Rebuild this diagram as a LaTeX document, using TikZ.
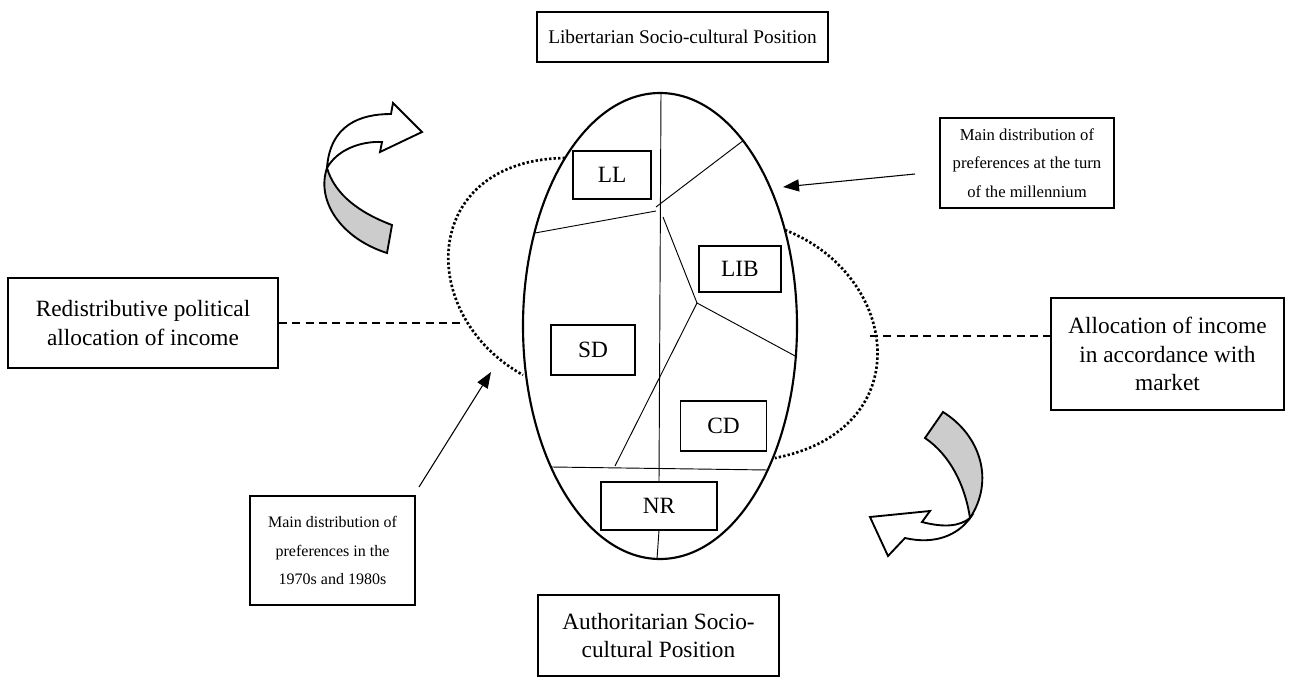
\documentclass[tikz,border=0pt]{standalone}
\usepackage{fontspec}
\setmainfont{Liberation Serif}
\usetikzlibrary{arrows.meta, positioning}

\begin{document}
\begin{tikzpicture}[
  x=0.75pt, y=-0.75pt,
  font=\fontsize{17.5}{21.5}\selectfont,
  box/.style={draw, line width=1.3pt, align=center, inner sep=0pt},
  small/.style={font=\fontsize{12.5}{21.5}\selectfont},
  party/.style={draw, line width=0.8pt, inner sep=0pt},
  border/.style={line width=0.7pt},
  orbit/.style={line width=2pt, dash pattern=on 1.8pt off 1.6pt},
  axis/.style={line width=1pt, dash pattern=on 6pt off 4pt},
  twist/.style={draw, line width=1.4pt, line join=miter},
  >={Triangle[length=12pt, width=9pt]}
]
\useasboundingbox (0,0) rectangle (1297,678);

% outer boxes
\node[box, font=\fontsize{14.5}{18}\selectfont, minimum width=218pt, minimum height=37.5pt] (libpos) at (682.5,37) {Libertarian Socio-cultural Position};
\node[box, minimum width=181pt, minimum height=61pt] (authpos) at (658.5,635.5) {Authoritarian Socio-\\cultural Position};
\node[box, minimum width=202.5pt, minimum height=67.5pt] (redist) at (143,323) {Redistributive political\\allocation of income};
\node[box, minimum width=175pt, minimum height=84pt] (market) at (1167.5,354) {Allocation of income\\in accordance with\\market};
\node[box, small, minimum width=130.5pt, minimum height=67pt] (recent) at (1027,163) {Main distribution of\\preferences at the turn\\of the millennium};
\node[box, small, font=\fontsize{12}{21.5}\selectfont, minimum width=124pt, minimum height=82pt] (early) at (332.5,550.5) {Main distribution of\\preferences in the\\1970s and 1980s};

% the oval and its parties
\draw[line width=1.6pt] (660,326) ellipse [x radius=137, y radius=233];
\node[party, minimum width=58.5pt, minimum height=36pt] (ll) at (612,175) {LL};
\node[party, minimum width=61.5pt, minimum height=34.5pt] (lib) at (740,269) {LIB};
\node[party, minimum width=63pt, minimum height=37.5pt] (sd) at (593,350) {SD};
\node[party, minimum width=64pt, minimum height=37.5pt] (cd) at (723.5,426) {CD};
\node[party, minimum width=87pt, minimum height=36pt] (nr) at (659,506) {NR};

\draw[border] (661,93) -- (nr.north);
\draw[border] (nr.south) -- (657,559);
\draw[border] (535,233) -- (656,211);
\draw[border] (656,207) -- (744,140);
\draw[border] (663,217) -- (697,303) coordinate (fork);
\draw[border] (fork) -- (797,357);
\draw[border] (fork) -- (615,466);
\draw[border] (552,467) -- (768,470);

% orbits and axis
\draw[orbit] (565,158) .. controls (420,160) and (415,315) .. (523,375);
\draw[orbit] (785,230) .. controls (900,275) and (920,430) .. (775,458);
\coordinate (ld) at (462,323);
\coordinate (rd) at (870,336);
\draw[axis] (redist.east) -- (ld);
\draw[axis] (rd) -- (rd -| market.west);

% pointers
\coordinate (tailA) at (915,174);
\coordinate (tailB) at (419,487);
\draw[->, line width=0.8pt] (tailA) -- (783,187);
\draw[->, line width=0.8pt] (tailB) -- (491,372);

% shift arrows
\filldraw[twist, fill=white] (327,168) .. controls (330,125) and (360,114) .. (391,114) -- (393,103) -- (422,132) -- (380,152) -- (382,142) .. controls (360,141) and (337,150) .. (327,168) -- cycle;
\filldraw[twist, fill=black!20] (327,168) .. controls (316,200) and (340,238) .. (387,253) -- (392,225) .. controls (360,213) and (335,195) .. (327,168) -- cycle;
\filldraw[twist, fill=black!20] (943,412) .. controls (980,435) and (995,480) .. (970,518) .. controls (965,485) and (950,455) .. (925,438) -- cycle;
\filldraw[twist, fill=white] (970,518) .. controls (960,526) and (945,528) .. (922,522) -- (930,511) -- (870,517) -- (888,556) -- (905,538) .. controls (935,545) and (958,535) .. (970,518) -- cycle;
\end{tikzpicture}
\end{document}
